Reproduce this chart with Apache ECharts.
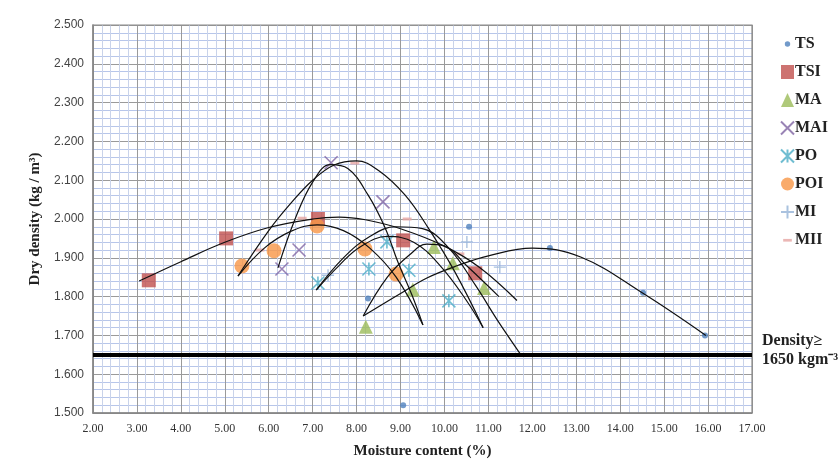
<!DOCTYPE html>
<html>
<head>
<meta charset="utf-8">
<script src="https://cdn.jsdelivr.net/npm/echarts@6/dist/echarts.min.js"></script>
<style>
  html, body { margin: 0; padding: 0; background: #fff; }
  #chart { width: 838px; height: 471px; }
</style>
</head>
<body>
<div id="chart"></div>
<script>
// measured points [moisture %, dry density]
const TS  = [[8.26, 1.795], [9.06, 1.520], [10.56, 1.980], [12.40, 1.925], [14.52, 1.810], [15.93, 1.700]]
const TSI = [[3.27, 1.842], [5.03, 1.950], [7.12, 2.000], [9.06, 1.945], [10.70, 1.860]]
const MA  = [[8.21, 1.722], [9.28, 1.818], [9.76, 1.928], [10.19, 1.886], [10.90, 1.822]]
const MAI = [[6.30, 1.871], [6.69, 1.920], [7.42, 2.145], [8.60, 2.044]]
const PO  = [[7.12, 1.835], [8.28, 1.871], [8.69, 1.941], [9.19, 1.868], [10.10, 1.789]]
const POI = [[5.39, 1.879], [6.12, 1.918], [7.10, 1.982], [8.19, 1.923], [8.90, 1.858]]
const MI  = [[7.35, 1.855], [10.51, 1.941], [11.26, 1.876]]
const MII = [[5.80, 1.920], [6.76, 2.002], [7.96, 2.144], [9.15, 2.000], [10.35, 1.910]]

// trend curves
const TS_FIT  = [[8.15, 1.750], [9.0, 1.808], [9.6, 1.848], [10.3, 1.880], [11.0, 1.905], [12.0, 1.925], [13.1, 1.902], [14.5, 1.810], [15.95, 1.700]]
const TSI_FIT = [[3.05, 1.840], [4.0, 1.890], [5.0, 1.940], [6.0, 1.978], [7.0, 2.000], [7.6, 2.005], [8.2, 1.998], [9.0, 1.975], [10.0, 1.930], [10.8, 1.875], [11.65, 1.790]]
const MA_FIT  = [[8.15, 1.750], [8.7, 1.850], [9.2, 1.907], [9.6, 1.935], [10.0, 1.930], [10.5, 1.880], [11.24, 1.800]]
const MAI_FIT = [[6.21, 1.874], [6.6, 2.000], [7.0, 2.095], [7.4, 2.140], [7.8, 2.130], [8.26, 2.062], [8.65, 1.977], [8.94, 1.889], [9.26, 1.804], [9.51, 1.727]]
const PO_FIT  = [[7.08, 1.817], [7.6, 1.880], [8.08, 1.928], [8.7, 1.955], [9.3, 1.940], [9.9, 1.880], [10.5, 1.790], [10.88, 1.720]]
const POI_FIT = [[5.30, 1.853], [5.9, 1.925], [6.5, 1.968], [7.1, 1.985], [7.7, 1.970], [8.3, 1.925], [8.9, 1.850], [9.51, 1.727]]
const MI_FIT  = [[7.08, 1.817], [7.7, 1.900], [8.3, 1.955], [8.9, 1.980], [9.5, 1.975], [10.1, 1.925], [10.7, 1.830], [11.2, 1.740], [11.74, 1.650]]
const MII_FIT = [[5.30, 1.853], [6.0, 1.970], [6.5, 2.040], [7.0, 2.100], [7.5, 2.140], [8.0, 2.150], [8.5, 2.125], [9.1, 2.062], [9.63, 1.977], [10.24, 1.863], [10.88, 1.720]]

const LIMIT = 1.65
const NAMES = ['TS', 'TSI', 'MA', 'MAI', 'PO', 'POI', 'MI', 'MII']

const SERIF = '"Liberation Serif", "Times New Roman", serif'
const SANS = '"Liberation Sans", Arial, sans-serif'

const MARKS = {
  TS:  { data: TS,  symbol: 'circle', size: 6, style: { color: '#4f81bd' }, icon: 'path://M0 0M12 12M3.5 6a2.5 2.5 0 1 0 5 0a2.5 2.5 0 1 0 -5 0z' },
  TSI: { data: TSI, symbol: 'rect', size: 14, style: { color: '#c0504d' } },
  MA:  { data: MA,  symbol: 'triangle', size: 14, style: { color: '#9bbb59' } },
  MAI: { data: MAI, symbol: 'path://M0 0L10 10M10 0L0 10', size: 13, style: { color: 'rgba(0,0,0,0)', borderColor: '#8064a2', borderWidth: 1.6 } },
  PO:  { data: PO,  symbol: 'path://M0 0L10 10M10 0L0 10M5 0L5 10', size: 13, style: { color: 'rgba(0,0,0,0)', borderColor: '#4bacc6', borderWidth: 1.6 } },
  POI: { data: POI, symbol: 'circle', size: 15, style: { color: '#f79646' } },
  MI:  { data: MI,  symbol: 'path://M5 0L5 10M0 5L10 5', size: 12, style: { color: 'rgba(0,0,0,0)', borderColor: '#95b3d7', borderWidth: 1.4 } },
  MII: { data: MII, symbol: 'rect', size: [9, 3], style: { color: '#e6a5a3' }, icon: 'path://M0 0M12 12M2 5h8v2.5h-8z' }
}
const FITS = [TS_FIT, TSI_FIT, MA_FIT, MAI_FIT, PO_FIT, POI_FIT, MI_FIT, MII_FIT]

const chart = echarts.init(document.getElementById('chart'))

const fitSeries = FITS.map((d, i) => ({
  name: NAMES[i] + ' fit',
  type: 'line',
  data: d,
  smooth: 0.4,
  showSymbol: false,
  silent: true,
  z: 3,
  lineStyle: { color: '#111', width: 1.2 }
}))

const markSeries = NAMES.map(n => ({
  name: n,
  type: 'scatter',
  data: MARKS[n].data,
  symbol: MARKS[n].symbol,
  symbolSize: MARKS[n].size,
  itemStyle: MARKS[n].style,
  z: 2
}))

const limitSeries = {
  name: 'limit',
  type: 'line',
  data: [],
  markLine: {
    silent: true,
    symbol: 'none',
    label: { show: false },
    lineStyle: { color: '#000', width: 4, type: 'solid' },
    data: [{ yAxis: LIMIT }]
  }
}

chart.setOption({
  animation: false,
  backgroundColor: '#fff',
  grid: { left: 93, right: 86, top: 25, bottom: 58 },
  legend: {
    data: NAMES.map(n => MARKS[n].icon ? { name: n, icon: MARKS[n].icon } : n),
    orient: 'vertical',
    left: 775,
    top: 31,
    itemGap: 12,
    itemWidth: 13,
    itemHeight: 14,
    textStyle: { fontFamily: SERIF, fontWeight: 'bold', fontSize: 16, color: '#222', padding: [0, 0, 0, -4] }
  },
  xAxis: {
    type: 'value',
    min: 2, max: 17, interval: 1,
    name: 'Moisture content (%)',
    nameLocation: 'middle',
    nameGap: 31,
    nameTextStyle: { fontFamily: SERIF, fontWeight: 'bold', fontSize: 15, color: '#222' },
    axisLine: { show: true, lineStyle: { color: '#7f7f7f', width: 1.5 } },
    axisTick: { show: false },
    axisLabel: { fontFamily: SERIF, fontSize: 12, color: '#333', margin: 10, formatter: v => v.toFixed(2) },
    splitLine: { show: true, lineStyle: { color: '#9a9a9a', width: 1 } },
    minorTick: { show: false, splitNumber: 5 },
    minorSplitLine: { show: true, lineStyle: { color: '#c9d3ea', width: 1 } }
  },
  yAxis: {
    type: 'value',
    min: 1.5, max: 2.5, interval: 0.1,
    name: 'Dry density (kg / m³)',
    nameLocation: 'middle',
    nameGap: 47,
    nameRotate: 90,
    nameTextStyle: { fontFamily: SERIF, fontWeight: 'bold', fontSize: 15, color: '#222' },
    axisLine: { show: true, lineStyle: { color: '#7f7f7f', width: 1.5 } },
    axisTick: { show: false },
    axisLabel: { fontFamily: SANS, fontSize: 12, color: '#444', margin: 9, formatter: v => v.toFixed(3) },
    splitLine: { show: true, lineStyle: { color: '#9a9a9a', width: 1 } },
    minorTick: { show: false, splitNumber: 5 },
    minorSplitLine: { show: true, lineStyle: { color: '#b7c6ea', width: 1 } }
  },
  graphic: [
    { type: 'rect', shape: { x: 93, y: 25, width: 659, height: 388 }, style: { fill: 'none', stroke: '#8a8a8a', lineWidth: 1.2 }, z: 1, silent: true },
    { type: 'text', left: 762, top: 333, style: { text: 'Density≥', font: 'bold 16px ' + SERIF, fill: '#222' } },
    { type: 'text', left: 762, top: 352, style: { text: '1650 kgm⁻³', font: 'bold 16px ' + SERIF, fill: '#222' } }
  ],
  series: [limitSeries, ...fitSeries, ...markSeries]
})

window.addEventListener('resize', () => chart.resize())
</script>
</body>
</html>
